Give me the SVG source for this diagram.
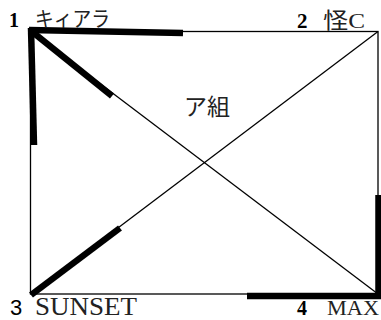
<svg xmlns="http://www.w3.org/2000/svg" width="381" height="320" viewBox="0 0 381 320">
  <style>
    .thin { stroke: #000; stroke-width: 1.3; fill: none; }
    .thick { stroke: #000; stroke-width: 6.5; fill: none; stroke-linecap: butt; }
    .num { font-family: "Liberation Serif", "Noto Sans CJK JP", serif; font-weight: bold; fill: #000; }
    .lbl { font-family: "Liberation Serif", "Noto Sans CJK JP", serif; fill: #222; }
  </style>
  <rect width="381" height="320" fill="#fff"/>
  <g id="connectors">
    <rect class="thin" x="30.5" y="31.5" width="347.5" height="262.5"/>
    <line class="thin" x1="30.5" y1="31" x2="378" y2="294"/>
    <line class="thin" x1="378" y1="31.5" x2="30.5" y2="294"/>
    <line class="thick" x1="29" y1="30" x2="183" y2="33"/>
    <line class="thick" x1="31" y1="28" x2="34" y2="145"/>
    <line class="thick" x1="30" y1="30" x2="112" y2="96"/>
    <line class="thick" x1="31" y1="295" x2="120" y2="228"/>
    <line class="thick" x1="247" y1="296" x2="381" y2="296"/>
    <line class="thick" x1="378.5" y1="195" x2="378.5" y2="299"/>
  </g>
  <g id="node1">
    <text class="num" x="9" y="27" font-size="20">1</text>
    <text class="lbl" x="35" y="26" font-size="21" textLength="75" lengthAdjust="spacingAndGlyphs">キィアラ</text>
  </g>
  <g id="node2">
    <text class="num" x="297" y="28" font-size="21">2</text>
    <text class="lbl" x="323" y="28" font-size="22" textLength="42" lengthAdjust="spacingAndGlyphs">怪C</text>
  </g>
  <g id="node3">
    <text x="10" y="315" font-size="22" font-family="Liberation Sans, sans-serif" fill="#000">3</text>
    <text class="lbl" x="35" y="315" font-size="25" textLength="102" lengthAdjust="spacingAndGlyphs">SUNSET</text>
  </g>
  <g id="node4">
    <text class="num" x="297" y="315" font-size="20">4</text>
    <text class="lbl" x="327" y="315" font-size="21" textLength="52" lengthAdjust="spacingAndGlyphs">MAX</text>
  </g>
  <g id="center">
    <text class="lbl" x="184" y="115" font-size="23">ア組</text>
  </g>
</svg>
